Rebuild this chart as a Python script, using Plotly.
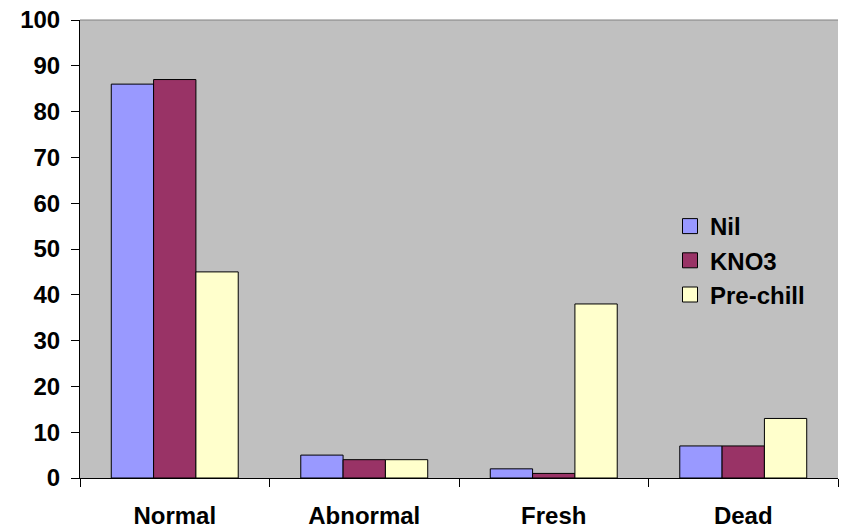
import plotly.graph_objects as go

categories = ["Normal", "Abnormal", "Fresh", "Dead"]
nil = [86, 5, 2, 7]
kno3 = [87, 4, 1, 7]
prechill = [45, 4, 38, 13]
series_names = ["Nil", "KNO3", "Pre-chill"]
colors = ["#9999FF", "#993366", "#FFFFCC"]

fig = go.Figure()
for name, vals, col in zip(series_names, [nil, kno3, prechill], colors):
    fig.add_trace(go.Bar(x=categories, y=vals, name=name, showlegend=False,
                         marker=dict(color=col, line=dict(color="black", width=1))))
# legend entries (square swatches like the original)
for name, col in zip(series_names, colors):
    fig.add_trace(go.Scatter(x=[None], y=[None], mode="markers", name=name,
                             legendgroup=name,
                             marker=dict(symbol="square", size=15, color=col,
                                         line=dict(color="black", width=1))))

font = dict(family="Liberation Sans, Arial, sans-serif", size=24, color="black", weight="bold")
fig.update_layout(
    width=842, height=528,
    margin=dict(l=80, r=4, t=20, b=50),
    paper_bgcolor="white", plot_bgcolor="#C0C0C0",
    barmode="group", bargap=0.33, bargroupgap=0,
    font=font,
    showlegend=True,
    legend=dict(x=(670 - 80) / 758, y=(478 - 204) / 458, xanchor="left", yanchor="top",
                bgcolor="rgba(0,0,0,0)", font=font, tracegroupgap=0, itemwidth=30),
    xaxis=dict(showline=True, linecolor="black", linewidth=1, ticks="outside",
               tickson="boundaries", ticklen=8, tickcolor="black", automargin=False,
               tickfont=font, showgrid=False, ticklabelstandoff=16),
    yaxis=dict(range=[0, 100], dtick=10, showline=True, linecolor="black", linewidth=1,
               ticks="outside", ticklen=8, tickcolor="black", tickfont=font, automargin=False,
               showgrid=False, zeroline=False, ticklabelstandoff=6),
    shapes=[dict(type="line", xref="paper", yref="paper", x0=0, x1=1, y0=1, y1=1,
                 line=dict(color="#808080", width=1))],
)
fig.write_html("out.html", config={"displayModeBar": False},
               post_script="document.body.style.margin='0';")
